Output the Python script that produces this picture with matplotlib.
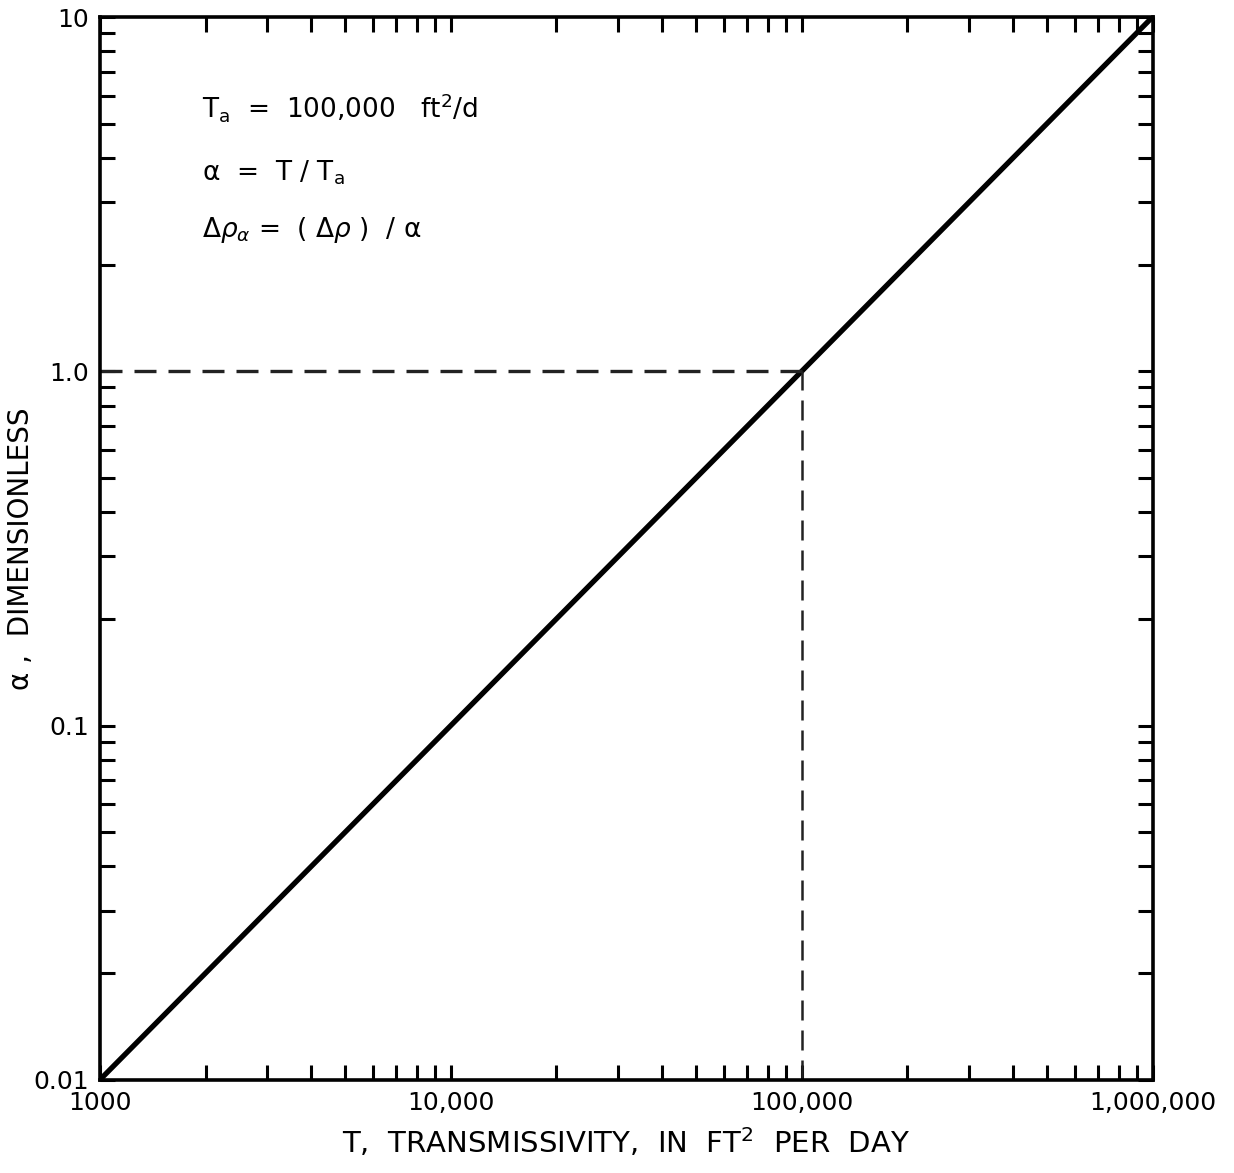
import numpy as np
import matplotlib.pyplot as plt
from matplotlib.ticker import FixedLocator, LogLocator, NullFormatter

# --- data ---
T_line = [1000, 1000000]          # transmissivity, ft2/d
alpha_line = [0.01, 10]           # alpha = T / Ta
T_a = 100000
alpha_ref = 1.0

x_ticks = [1000, 10000, 100000, 1000000]
x_tick_labels = ["1000", "10,000", "100,000", "1,000,000"]
y_ticks = [0.01, 0.1, 1.0, 10]
y_tick_labels = ["0.01", "0.1", "1.0", "10"]

plt.rcParams["font.family"] = ["DejaVu Sans"]

fig = plt.figure(figsize=(12.34, 11.73), dpi=100)
ax = fig.add_axes([0.081, 0.0795, 0.853, 0.906])

ax.plot(T_line, alpha_line, color="black", linewidth=3.8, solid_capstyle="butt")
ax.plot([T_line[0], T_a], [alpha_ref, alpha_ref], color="#222222", linewidth=2.4,
        dashes=(6.6, 3.6), dash_capstyle="butt")
ax.plot([T_a, T_a], [alpha_line[0], alpha_ref], color="#222222", linewidth=1.8,
        dashes=(8, 4), dash_capstyle="butt")

ax.set_xscale("log")
ax.set_yscale("log")
ax.set_xlim(T_line[0], T_line[1])
ax.set_ylim(alpha_line[0], alpha_line[1])

ax.xaxis.set_major_locator(FixedLocator(x_ticks))
ax.set_xticklabels(x_tick_labels)
ax.yaxis.set_major_locator(FixedLocator(y_ticks))
ax.set_yticklabels(y_tick_labels)
for axis in (ax.xaxis, ax.yaxis):
    axis.set_minor_locator(LogLocator(base=10, subs=np.arange(2, 10)))
    axis.set_minor_formatter(NullFormatter())

ax.tick_params(which="both", direction="in", top=True, right=True,
               length=11, width=2.2, labelsize=18, pad=8)
for sp in ax.spines.values():
    sp.set_linewidth(2.6)

ax.set_xlabel("T,  TRANSMISSIVITY,  IN  FT$^2$  PER  DAY", fontsize=21, labelpad=8)
ax.set_ylabel("α ,  DIMENSIONLESS", fontsize=20)
ax.yaxis.set_label_coords(-0.062, 0.5)

ax.text(0.097, 0.915, "T$_\\mathrm{a}$  =  100,000   ft$^2$/d", transform=ax.transAxes,
        fontsize=19, va="center")
ax.text(0.097, 0.853, "α  =  T / T$_\\mathrm{a}$", transform=ax.transAxes,
        fontsize=19, va="center")
ax.text(0.097, 0.800, "Δ$\\mathit{ρ}_{α}$ =  ( Δ$\\mathit{ρ}$ )  / α", transform=ax.transAxes,
        fontsize=19, va="center")

fig.savefig("out.png", dpi=100)
